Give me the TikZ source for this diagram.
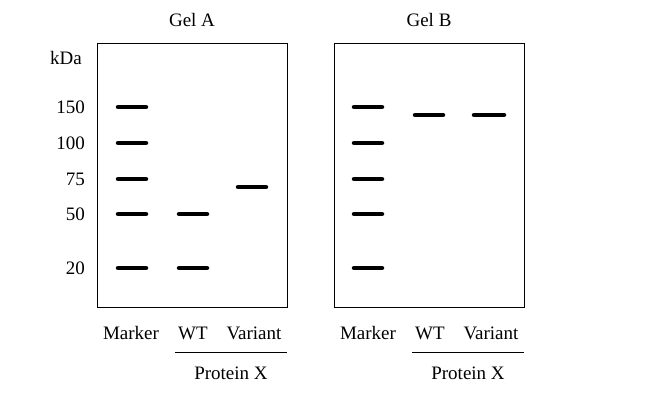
\documentclass[tikz,border=0pt]{standalone}
\usepackage{fontspec}
\setmainfont{Liberation Serif}
\begin{document}
\begin{tikzpicture}[x=1pt,y=-1pt,
  gel/.style={draw,line width=0.9pt},
  band/.style={line width=4.5pt,line cap=round},
  lbl/.style={font=\fontsize{19}{21}\selectfont,inner sep=0pt}]
\useasboundingbox (0,0) rectangle (652,400);
\node[gel,minimum width=190pt,minimum height=264pt,inner sep=0pt] (ga) at (192,175) {};
\node[gel,minimum width=190pt,minimum height=264pt,inner sep=0pt] (gb) at (429,175) {};
\node[lbl] (ta) at (192,20) {Gel A};
\node[lbl] (tb) at (429,20) {Gel B};
\node[lbl] (kda) at (66,58) {kDa};
\foreach \v/\y in {150/107,100/143,75/179,50/214,20/268}{
  \node[lbl,anchor=east] (n\v) at (85,\y) {\v};
  \draw[band] (118,\y) coordinate (ma\v) -- (146,\y);
  \draw[band] (354,\y) coordinate (mb\v) -- (382,\y);
}
\draw[band] (179,214) coordinate (w1) -- (207,214);
\draw[band] (179,268) coordinate (w2) -- (207,268);
\draw[band] (238,187) coordinate (va) -- (266,187);
\draw[band] (415,115) coordinate (wb) -- (443,115);
\draw[band] (474,115) coordinate (vb) -- (504,115);
\foreach \g/\dx in {a/0,b/237}{
  \node[lbl,anchor=base] (mk\g) at (131+\dx,339) {Marker};
  \node[lbl,anchor=base] (wt\g) at (193+\dx,339) {WT};
  \node[lbl,anchor=base] (vr\g) at (254+\dx,339) {Variant};
  \draw[line width=0.8pt] (175+\dx,352) coordinate (l\g) -- (287+\dx,352) coordinate (r\g);
  \node[lbl,anchor=base] (px\g) at (231+\dx,379) {Protein X};
}
\end{tikzpicture}
\end{document}
